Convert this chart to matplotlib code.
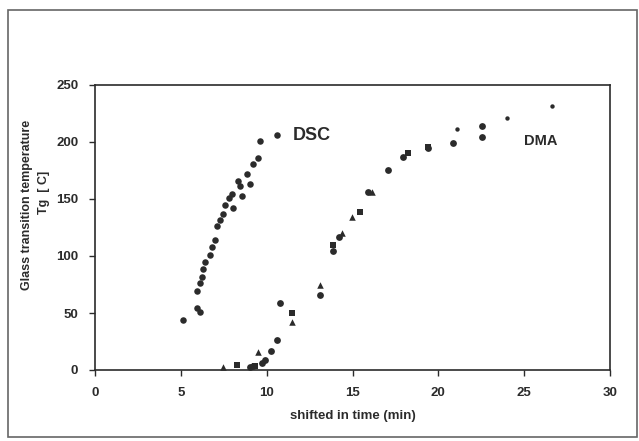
import matplotlib.pyplot as plt
from matplotlib.patches import Rectangle

# DSC measurements (time shift in min, Tg in C)
dsc_x = [5.14, 5.92, 6.12, 5.92, 6.12, 6.21, 6.31, 6.40, 6.70, 6.79, 7.00, 7.08,
         7.28, 7.44, 7.57, 7.82, 7.96, 8.05, 8.35, 8.44, 8.54, 8.83, 9.03, 9.22,
         9.51, 9.61, 10.58]
dsc_y = [44, 54, 51, 69, 76, 82, 89, 95, 101, 108, 114, 126,
         132, 137, 145, 151, 154, 142, 166, 161, 153, 172, 163, 181,
         186, 201, 206]

# DMA measurements, three marker groups
dma_c_x = [9.03, 9.22, 9.71, 9.90, 10.23, 10.62, 10.77, 13.10, 13.88, 14.23, 15.92,
           17.08, 17.92, 19.38, 20.83, 22.52, 22.52]
dma_c_y = [2.3, 3.5, 6.5, 9, 17, 26, 58.5, 66, 104, 117, 156,
           175, 187, 195, 199, 204, 214]
dma_s_x = [8.25, 9.32, 11.45, 13.88, 15.43, 18.25, 19.41]
dma_s_y = [4, 3.5, 50, 110, 139, 190, 196]
dma_t_x = [7.47, 9.51, 11.45, 13.10, 14.37, 14.95, 16.11]
dma_t_y = [3, 16, 42, 74.5, 120, 134.5, 156]
dma_d_x = [21.06, 24.01, 26.63]
dma_d_y = [211, 221, 232]

xticks = [0, 5, 10, 15, 20, 25, 30]
yticks = [0, 50, 100, 150, 200, 250]

ink = '#2b2b2b'
plt.rcParams['font.family'] = ['Liberation Sans', 'DejaVu Sans']

fig = plt.figure(figsize=(6.39, 4.41), dpi=100)
fig.patches.append(Rectangle((8 / 639, 4 / 441), 629 / 639, 427 / 441,
                             transform=fig.transFigure, fill=False,
                             edgecolor='#666666', linewidth=1.2))
ax = fig.add_axes([95 / 639, 71 / 441, 515 / 639, 285 / 441])

ax.scatter(dsc_x, dsc_y, s=22, color=ink, marker='o', linewidths=0)
ax.scatter(dma_c_x, dma_c_y, s=24, color=ink, marker='o', linewidths=0)
ax.scatter(dma_s_x, dma_s_y, s=22, color=ink, marker='s', linewidths=0)
ax.scatter(dma_t_x, dma_t_y, s=22, color=ink, marker='^', linewidths=0)
ax.scatter(dma_d_x, dma_d_y, s=10, color=ink, marker='o', linewidths=0)

ax.set_xlim(0, 30)
ax.set_ylim(0, 250)
ax.set_xticks(xticks)
ax.set_yticks(yticks)
ax.tick_params(direction='out', length=4, width=1, color=ink, labelcolor=ink,
               labelsize=9.5, pad=8)
for lab in ax.get_xticklabels() + ax.get_yticklabels():
    lab.set_fontweight('bold')
for sp in ax.spines.values():
    sp.set_linewidth(1.2)
    sp.set_color(ink)

ax.text(11.5, 206, 'DSC', fontsize=13, fontweight='bold', color=ink, va='center')
ax.text(25.0, 201, 'DMA', fontsize=10.5, fontweight='bold', color=ink, va='center')

ax.set_xlabel('shifted in time (min)', fontsize=9.5, fontweight='bold', color=ink,
              labelpad=8)
fig.text(27 / 639, 1 - 205 / 441, 'Glass transition temperature', rotation=90,
         ha='center', va='center', fontsize=9, fontweight='bold', color=ink)
fig.text(44 / 639, 1 - 192 / 441, 'Tg  [ C]', rotation=90,
         ha='center', va='center', fontsize=9, fontweight='bold', color=ink)

fig.savefig('out.png', dpi=100)
